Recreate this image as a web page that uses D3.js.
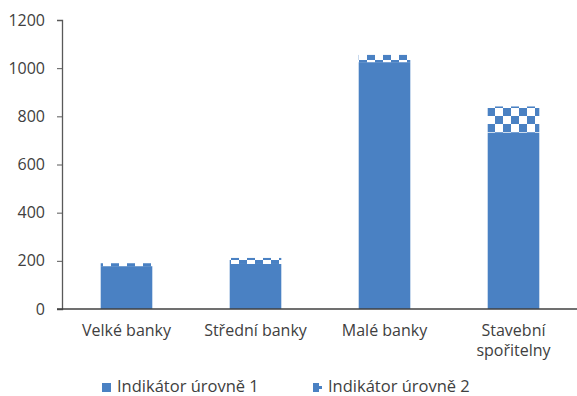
<!DOCTYPE html>
<html>
<head>
<meta charset="utf-8">
<script src="https://cdn.jsdelivr.net/npm/d3@7"></script>
<style>
  body { margin: 0; background: #fff; }
  text { font-family: "Open Sans", "Noto Sans", sans-serif; fill: #404040; }
</style>
</head>
<body>
<svg id="chart" width="577" height="396"></svg>
<script>
// Bank groups and indicator values
const categories = ["Velké banky", "Střední banky", "Malé banky", "Stavební\nspořitelny"];
const level1 = [178, 187, 1025, 733];
const level2 = [12, 25, 30, 108];
const yTicks = [0, 200, 400, 600, 800, 1000, 1200];
const seriesNames = ["Indikátor úrovně 1", "Indikátor úrovně 2"];

const blue = "#4a81c3";
const svg = d3.select("#chart");

const margin = { left: 62 };

const x = d3.scaleBand()
  .domain(categories)
  .range([margin.left, 578])
  .paddingInner(0.6)
  .paddingOuter(0.3);

const y = d3.scaleLinear()
  .domain([0, 1200])
  .range([309, 20]);

// Checkerboard fill for the second indicator
const defs = svg.append("defs");
const pat = defs.append("pattern")
  .attr("id", "checker")
  .attr("patternUnits", "userSpaceOnUse")
  .attr("width", 16).attr("height", 16)
  .attr("x", 7).attr("y", 12);
pat.append("rect").attr("width", 16).attr("height", 16).attr("fill", "#fff");
pat.append("rect").attr("x", 0).attr("y", 0).attr("width", 8).attr("height", 8).attr("fill", blue);
pat.append("rect").attr("x", 8).attr("y", 8).attr("width", 8).attr("height", 8).attr("fill", blue);

const data = categories.map((c, i) => ({ c, v1: level1[i], v2: level2[i] }));

// Level 1 bars
svg.append("g").selectAll("rect")
  .data(data).join("rect")
  .attr("x", d => x(d.c))
  .attr("width", x.bandwidth())
  .attr("y", d => y(d.v1))
  .attr("height", d => y(0) - y(d.v1))
  .attr("fill", blue);

// Level 2 bars stacked on top
svg.append("g").selectAll("rect")
  .data(data).join("rect")
  .attr("x", d => x(d.c))
  .attr("width", x.bandwidth())
  .attr("y", d => y(d.v1 + d.v2))
  .attr("height", d => y(d.v1) - y(d.v1 + d.v2))
  .attr("fill", "url(#checker)");

// Y axis
const yAxis = svg.append("g")
  .attr("transform", `translate(${margin.left},0)`)
  .call(d3.axisLeft(y).tickValues(yTicks).tickSize(5).tickPadding(12).tickFormat(d3.format("d")));
yAxis.select(".domain").attr("stroke", "#595959").attr("stroke-width", 1.3);
yAxis.selectAll(".tick line").attr("stroke", "#595959");
yAxis.selectAll("text").style("font-size", "16px").attr("fill", "#404040");

// X axis baseline
svg.append("line")
  .attr("x1", margin.left - 5).attr("x2", 577)
  .attr("y1", y(0)).attr("y2", y(0))
  .attr("stroke", "#404040").attr("stroke-width", 1.3);

// Category labels
const xl = svg.append("g").selectAll("text")
  .data(categories).join("text")
  .attr("x", d => x(d) + x.bandwidth() / 2)
  .attr("y", 336)
  .attr("text-anchor", "middle")
  .style("font-size", "16px");
xl.each(function(d) {
  const lines = d.split("\n");
  d3.select(this).selectAll("tspan").data(lines).join("tspan")
    .attr("x", x(d) + x.bandwidth() / 2)
    .attr("dy", (l, i) => i === 0 ? 0 : 20)
    .text(l => l);
});

// Legend
const legend = svg.append("g");
const legendX = [102, 313];
seriesNames.forEach((name, i) => {
  const g = legend.append("g").attr("transform", `translate(${legendX[i]},383)`);
  g.append("rect").attr("width", 9).attr("height", 9).attr("fill", blue);
  if (i === 1) {
    g.append("rect").attr("x", 6).attr("y", 0).attr("width", 3).attr("height", 3).attr("fill", "#fff");
    g.append("rect").attr("x", 6).attr("y", 6).attr("width", 3).attr("height", 3).attr("fill", "#fff");
  }
  g.append("text")
    .attr("x", 15).attr("y", 8.5)
    .style("font-size", "16.5px")
    .text(name);
});
</script>
</body>
</html>
